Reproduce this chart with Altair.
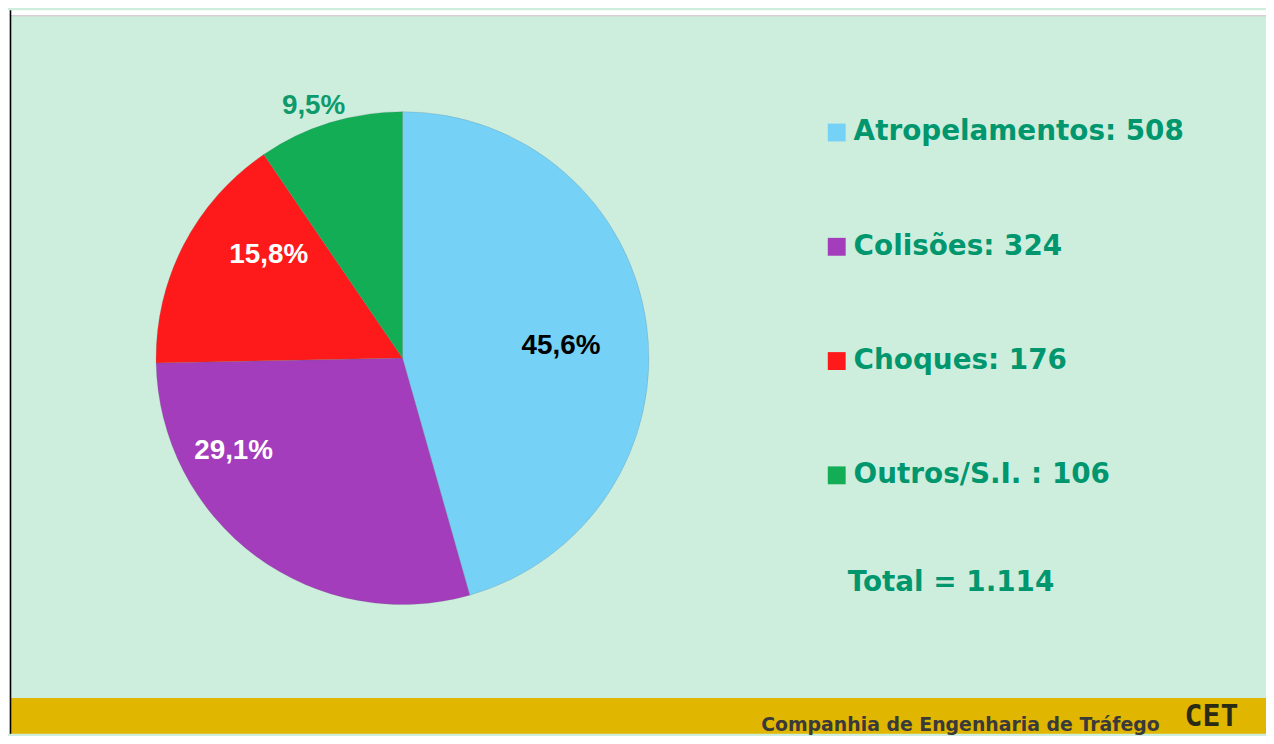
import altair as alt
import pandas as pd

# ---- data ----
categorias = ["Atropelamentos", "Colisões", "Choques", "Outros/S.I."]
valores = [508, 324, 176, 106]
separadores = [": ", ": ", ": ", " : "]
cores = ["#76d1f6", "#a33dbb", "#fe1a1a", "#13ad56"]
rodape = "Companhia de Engenharia de Tráfego"
logo = "CET"

total = sum(valores)
pct = [f"{v / total * 100:.1f}".replace(".", ",") + "%" for v in valores]
legendas = [f"{c}{s}{v}" for c, s, v in zip(categorias, separadores, valores)]
total_txt = "Total = " + f"{total:,}".replace(",", ".")

df = pd.DataFrame({
    "categoria": categorias,
    "valor": valores,
    "legenda": legendas,
    "pct": pct,
    "ordem": list(range(len(categorias))),
})

W, H = 1266, 728
CX, CY, R = 397, 350, 248
VERDE = "#00966e"

one = pd.DataFrame({"k": [0]})

def rect(x, x2, y, y2, color):
    return alt.Chart(one).mark_rect(color=color).encode(
        x=alt.value(x), x2=alt.value(x2), y=alt.value(y), y2=alt.value(y2))

top_white = rect(0, W, 0, 5, "#ffffff")
left_white = rect(0, 2, 0, H, "#ffffff")
yellow = rect(2, W, 692, H, "#e0b600")
grey_line = alt.Chart(one).mark_rule(color="#d6cfd6", strokeWidth=1.5).encode(
    x=alt.value(2), x2=alt.value(W), y=alt.value(5.5))
black_line = alt.Chart(one).mark_rule(color="#000000", strokeWidth=1.6).encode(
    x=alt.value(2.5), y=alt.value(0), y2=alt.value(H))

base = alt.Chart(df).encode(
    theta=alt.Theta("valor:Q", stack=True),
    order=alt.Order("ordem:Q", sort="ascending"),
)

pie = base.mark_arc(radius=R, stroke="#5a6a70", strokeWidth=0.4, strokeOpacity=0.5).encode(
    x=alt.value(CX), y=alt.value(CY),
    color=alt.Color(
        "legenda:N",
        scale=alt.Scale(domain=legendas, range=cores),
        sort=legendas,
        legend=alt.Legend(
            title=None, orient="none", legendX=820, legendY=109,
            symbolType="square", symbolSize=324, symbolStrokeWidth=0,
            symbolOpacity=1, labelFont="DejaVu Sans", labelFontWeight="bold",
            labelFontSize=28, labelColor=VERDE, labelOffset=3, labelLimit=700,
            rowPadding=87, padding=0,
        ),
    ),
)

# one label layer per slice (placement offsets mimic the tilted pie of the original)
label_style = {
    "Atropelamentos": dict(radius=160, thetaOffset=0.06, color="#000000"),
    "Colisões": dict(radius=194, thetaOffset=0.43, color="#ffffff"),
    "Choques": dict(radius=170, thetaOffset=0.18, color="#ffffff"),
    "Outros/S.I.": dict(radius=269, thetaOffset=-0.04, color="#0f9a6c"),
}

label_layers = []
for cat, st in label_style.items():
    label_layers.append(
        base.mark_text(
            font="Liberation Sans", fontWeight="bold", fontSize=28,
            align="center", baseline="middle", **st,
        ).encode(
            x=alt.value(CX), y=alt.value(CY),
            text="pct:N",
            opacity=alt.condition(f"datum.categoria === '{cat}'", alt.value(1), alt.value(0)),
        )
    )

total_df = pd.DataFrame({"t": [total_txt]})
total_text = alt.Chart(total_df).mark_text(
    font="DejaVu Sans", fontWeight="bold", fontSize=28, color=VERDE,
    align="left", baseline="middle",
).encode(x=alt.value(845), y=alt.value(576), text="t:N")

rod_df = pd.DataFrame({"t": [rodape]})
rod_text = alt.Chart(rod_df).mark_text(
    font="DejaVu Sans", fontWeight="bold", fontSize=19, color="#3a3a3a",
    align="right", baseline="alphabetic",
).encode(x=alt.value(1159), y=alt.value(725), text="t:N")

logo_df = pd.DataFrame({"t": [logo]})
logo_text = alt.Chart(logo_df).mark_text(
    font="DejaVu Sans Mono", fontWeight="bold", fontSize=30, color="#2b2a14",
    align="left", baseline="alphabetic",
).encode(x=alt.value(1184), y=alt.value(720), text="t:N")

chart = alt.layer(
    top_white, left_white, yellow, grey_line, black_line,
    pie, *label_layers, total_text, rod_text, logo_text,
).properties(
    width=W, height=H,
    autosize=alt.AutoSizeParams(type="none", contains="padding"),
    padding=0,
).configure(background="#cdeedd").configure_view(stroke=None)

chart.save("out.html", embed_options={"renderer": "svg", "actions": False})
